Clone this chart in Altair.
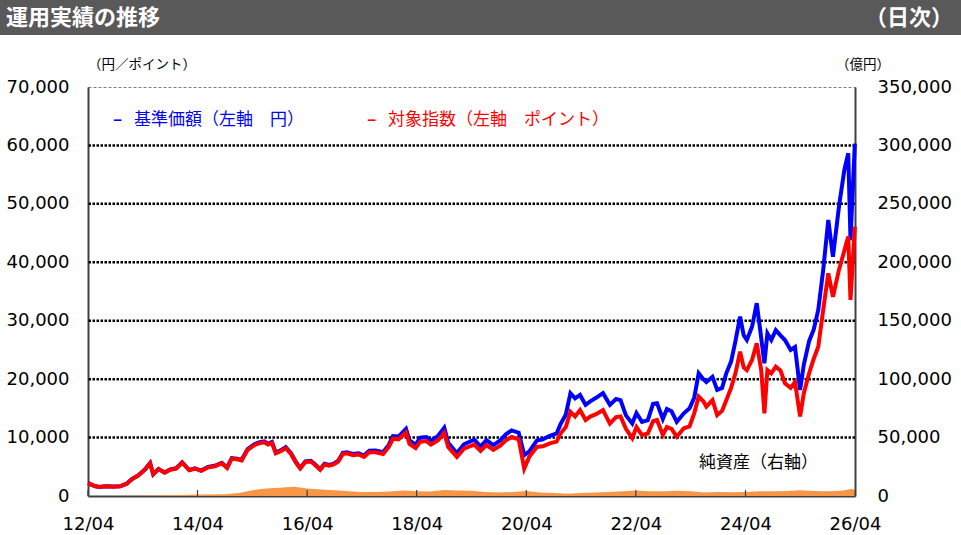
import altair as alt
import pandas as pd

# ---------------- data ----------------
dates = [
    "2012-04-02", "2012-05-15", "2012-06-15", "2012-08-01", "2012-09-15", "2012-11-01", "2012-12-15",
    "2013-01-20", "2013-03-01", "2013-04-15", "2013-05-20", "2013-06-10", "2013-07-15", "2013-08-25",
    "2013-10-01", "2013-11-10", "2013-12-20", "2014-02-05", "2014-03-15", "2014-04-25", "2014-06-10",
    "2014-07-25", "2014-09-10", "2014-10-15", "2014-11-15", "2014-12-20", "2015-01-20", "2015-03-01",
    "2015-04-15", "2015-05-15", "2015-06-20", "2015-07-15", "2015-08-10", "2015-09-05", "2015-10-10",
    "2015-11-10", "2015-12-15", "2016-01-20", "2016-02-15", "2016-03-20", "2016-04-25", "2016-05-20",
    "2016-06-27", "2016-07-25", "2016-08-25", "2016-09-25", "2016-10-25", "2016-11-25", "2016-12-20",
    "2017-02-01", "2017-03-10", "2017-04-15", "2017-05-20", "2017-07-01", "2017-08-20", "2017-09-25",
    "2017-10-25", "2017-12-01", "2018-01-20", "2018-02-12", "2018-03-25", "2018-04-25", "2018-06-05",
    "2018-07-05", "2018-08-20", "2018-10-02", "2018-10-28", "2018-12-25", "2019-02-10", "2019-04-20",
    "2019-06-01", "2019-07-10", "2019-08-25", "2019-10-10", "2019-11-15", "2019-12-25", "2020-02-10",
    "2020-03-18", "2020-04-20", "2020-06-10", "2020-07-20", "2020-09-05", "2020-10-20", "2020-11-15",
    "2020-12-20", "2021-01-20", "2021-02-20", "2021-03-25", "2021-05-01", "2021-06-01", "2021-07-10",
    "2021-08-25", "2021-10-10", "2021-11-20", "2021-12-20", "2022-01-25", "2022-03-08", "2022-04-05",
    "2022-05-12", "2022-06-20", "2022-07-25", "2022-08-20", "2022-09-28", "2022-10-25", "2022-11-25",
    "2022-12-30", "2023-02-15", "2023-03-25", "2023-04-25", "2023-05-25", "2023-06-25", "2023-07-15",
    "2023-08-25", "2023-09-25", "2023-10-28", "2023-11-25", "2023-12-27", "2024-01-25", "2024-02-25",
    "2024-03-20", "2024-04-10", "2024-05-15", "2024-06-15", "2024-07-15", "2024-08-05", "2024-08-25",
    "2024-09-20", "2024-10-20", "2024-11-20", "2024-12-20", "2025-01-27", "2025-02-25", "2025-03-31",
    "2025-04-25", "2025-05-30", "2025-06-30", "2025-07-30", "2025-09-01", "2025-10-05", "2025-11-05",
    "2025-12-15", "2026-01-20", "2026-02-15", "2026-03-02", "2026-03-31",
]

nav = [  # 基準価額（円）
    2200, 1700, 1560, 1660, 1610, 1660, 2110,
    2920, 3520, 4530, 5640, 3730, 4640, 4040,
    4550, 4750, 5760, 4450, 4750, 4350, 4960,
    5170, 5680, 4870, 6490, 6390, 6190, 8020,
    8840, 9150, 9360, 8950, 9260, 7430, 7840,
    8350, 7330, 5710, 4790, 5910, 6020, 5510,
    4600, 5520, 5320, 5530, 6050, 7390, 7500,
    7210, 7320, 6920, 7760, 7780, 7490, 8650,
    10250, 10170, 11500, 9500, 8780, 9970, 10100,
    9470, 10250, 11700, 9120, 7300, 8850, 9640,
    8450, 9570, 8700, 9500, 10520, 11230, 10830,
    7000, 7600, 9500, 9700, 10300, 10700, 12300,
    13900, 17600, 16700, 17300, 15600, 16200, 16800,
    17600, 15600, 16600, 16400, 13800, 12400, 14200,
    12700, 13000, 15800, 15900, 13200, 14900, 14500,
    12700, 14150, 15000, 16800, 21000, 20000, 19500,
    20400, 18150, 18500, 21000, 23000, 26500, 30700,
    27500, 26700, 29000, 33000, 27000, 22700, 27850,
    26700, 28400, 27500, 26700, 25000, 25500, 18150,
    22500, 26500, 28500, 31850, 38700, 47250, 40950,
    49500, 55800, 58650, 43800, 60300,
]

index_pts = [  # 対象指数（ポイント）
    2200, 1700, 1550, 1650, 1600, 1650, 2100,
    2900, 3500, 4500, 5600, 3700, 4600, 4000,
    4500, 4700, 5700, 4400, 4700, 4300, 4900,
    5100, 5600, 4800, 6400, 6300, 6100, 7900,
    8700, 9000, 9200, 8800, 9100, 7300, 7700,
    8200, 7200, 5600, 4700, 5800, 5900, 5400,
    4500, 5400, 5200, 5400, 5900, 7200, 7300,
    7000, 7100, 6700, 7500, 7500, 7200, 8300,
    9800, 9700, 10900, 8900, 8200, 9300, 9400,
    8800, 9500, 10800, 8400, 6700, 8100, 8800,
    7700, 8700, 7900, 8600, 9500, 10100, 9700,
    4700, 6700, 8400, 8500, 9000, 9300, 10700,
    11800, 14400, 13600, 14700, 13000, 13600, 14000,
    14700, 12400, 13500, 13600, 11500, 9900, 11800,
    10400, 10700, 12800, 13000, 10450, 11800, 11500,
    10150, 11600, 11900, 14150, 17000, 16200, 15300,
    16400, 13850, 14600, 16400, 18500, 21000, 24700,
    22000, 21550, 23300, 26150, 21500, 14150, 21550,
    21000, 22150, 21500, 19300, 18500, 19500, 13600,
    17600, 21000, 23500, 25550, 31850, 38100, 34100,
    38700, 42000, 44400, 33550, 46100,
]

na_dates = [
    "2012-04-02", "2012-10-01", "2013-04-01", "2013-10-01", "2014-04-01", "2014-10-01", "2015-01-05",
    "2015-04-01", "2015-07-01", "2015-10-01", "2016-01-05", "2016-04-01", "2016-07-01", "2016-10-03",
    "2017-01-04", "2017-04-03", "2017-07-03", "2017-10-02", "2018-01-04", "2018-04-02", "2018-07-02",
    "2018-10-01", "2019-01-04", "2019-04-01", "2019-07-01", "2019-10-01", "2020-01-06", "2020-04-01",
    "2020-07-01", "2020-10-01", "2021-01-04", "2021-04-01", "2021-07-01", "2021-10-01", "2022-01-04",
    "2022-04-01", "2022-07-01", "2022-10-03", "2023-01-04", "2023-04-03", "2023-07-03", "2023-10-02",
    "2024-01-04", "2024-04-01", "2024-07-01", "2024-10-01", "2025-01-06", "2025-04-01", "2025-07-01",
    "2025-10-01", "2026-01-05", "2026-03-02", "2026-03-31",
]

net_assets = [  # 純資産（億円）
    50, 100, 300, 700, 1200, 1500, 2500,
    5000, 6500, 7000, 8000, 6500, 5500, 5000,
    4000, 3500, 3500, 3800, 4800, 4000, 3800,
    5200, 4800, 4500, 3500, 3000, 3500, 4300,
    3000, 2500, 2000, 2500, 3000, 3500, 4000,
    4800, 4000, 4000, 4500, 4000, 3000, 3500,
    3200, 3500, 4000, 4000, 4200, 5000, 4200,
    4000, 4500, 6000, 5500,
]

left_ticks = [0, 10000, 20000, 30000, 40000, 50000, 60000, 70000]
right_ticks = [0, 50000, 100000, 150000, 200000, 250000, 300000, 350000]
grid_values = [10000, 20000, 30000, 40000, 50000, 60000]
x_tick_years = [2012, 2014, 2016, 2018, 2020, 2022, 2024, 2026]
x_tick_dates = ["2012-04-01", "2014-04-01", "2016-04-01", "2018-04-01",
                "2020-04-01", "2022-04-01", "2024-04-01", "2026-04-01"]

title_text = "運用実績の推移"
title_right = "（日次）"
legend_dash = "–"
legend_nav = "基準価額（左軸　円）"
legend_idx = "対象指数（左軸　ポイント）"
na_label = "純資産（右軸）"
left_unit = "（円／ポイント）"
right_unit = "（億円）"

# ---------------- chart ----------------
W, H = 767, 409
NUM_FONT = "DejaVu Sans"
JP_FONT = "Noto Sans CJK JP"

xscale = alt.Scale(
    domain=[alt.DateTime(year=2012, month=4, date=1),
            alt.DateTime(year=2026, month=4, date=1)],
)
yleft = alt.Scale(domain=[0, 70000], nice=False)
yright = alt.Scale(domain=[0, 350000], nice=False)

xaxis = alt.Axis(
    values=[alt.DateTime(year=y, month=4, date=1) for y in x_tick_years],
    format="%y/%m", title=None, grid=False,
    tickSize=0, labelPadding=19, labelFontSize=18, labelFont=NUM_FONT,
    labelColor="#000000", domainColor="#404040", domainWidth=2, labelFlush=False,
)
left_axis = alt.Axis(
    values=left_ticks, format=",d", title=None, grid=False, orient="left",
    tickSize=0, labelPadding=19, labelFontSize=18, labelFont=NUM_FONT,
    labelColor="#000000", domainColor="#404040", domainWidth=2,
)
right_axis = alt.Axis(
    values=right_ticks, format=",d", title=None, grid=False, orient="right",
    tickSize=0, labelPadding=22, labelFontSize=18, labelFont=NUM_FONT,
    labelColor="#000000", domainColor="#404040", domainWidth=2,
)

df = pd.DataFrame({"date": dates, "nav": nav, "idx": index_pts})
df_na = pd.DataFrame({"date": na_dates, "na": net_assets})
df_grid = pd.DataFrame({"v": grid_values})
df_xt = pd.DataFrame({"d": x_tick_dates})

# right-axis layer: net assets
area = alt.Chart(df_na).mark_area(color="#F79646", opacity=1).encode(
    x=alt.X("date:T", scale=xscale, axis=xaxis),
    y=alt.Y("na:Q", scale=yright, axis=right_axis),
)

# left-axis layer
blue = alt.Chart(df).mark_line(color="#0000FF", strokeWidth=4).encode(
    x=alt.X("date:T", scale=xscale, axis=xaxis),
    y=alt.Y("nav:Q", scale=yleft, axis=left_axis),
)
grid = alt.Chart(df_grid).mark_rule(color="#000000", strokeWidth=2.5, strokeDash=[2.5, 1.5]).encode(
    y=alt.Y("v:Q", scale=yleft, axis=left_axis),
)
red = alt.Chart(df).mark_line(color="#FF0000", strokeWidth=4).encode(
    x=alt.X("date:T", scale=xscale, axis=xaxis),
    y=alt.Y("idx:Q", scale=yleft, axis=left_axis),
)
xticks = alt.Chart(df_xt).mark_rule(color="#404040", strokeWidth=1.2).encode(
    x=alt.X("d:T", scale=xscale, axis=xaxis),
    y=alt.value(H - 6), y2=alt.value(H),
)

one = pd.DataFrame({"k": [0]})
header_bg = alt.Chart(one).mark_rect(color="#595959").encode(
    x=alt.value(-88), x2=alt.value(W + 106), y=alt.value(-87), y2=alt.value(-52),
)


def txt(s, x, y, size, color="#000000", align="left", weight="normal", font=JP_FONT):
    return alt.Chart(pd.DataFrame({"t": [s]})).mark_text(
        align=align, baseline="middle", fontSize=size, color=color,
        fontWeight=weight, font=font,
    ).encode(text="t:N", x=alt.value(x), y=alt.value(y))


texts = [
    txt(title_text, -82, -69, 22, "#FFFFFF", weight="bold"),
    txt(title_right, W + 98, -69, 22, "#FFFFFF", align="right", weight="bold"),
    txt(legend_dash, 25, 33, 17, "#0000FF", weight="bold"),
    txt(legend_nav, 46, 33, 17, "#0000FF"),
    txt(legend_dash, 279, 33, 17, "#FF0000", weight="bold"),
    txt(legend_idx, 300, 33, 17, "#FF0000"),
    txt(na_label, 611, 376, 17, "#000000"),
    txt(left_unit, 0, -22, 13.5, "#000000"),
    txt(right_unit, 748, -22, 13.5, "#000000"),
]

left_layer = alt.layer(header_bg, grid, blue, red, xticks, *texts)

chart = alt.layer(area, left_layer).resolve_scale(
    y="independent"
).properties(
    width=W, height=H, padding=0, background="#FFFFFF",
).configure_view(
    stroke="#808080", strokeDash=[3, 2], strokeWidth=1,
)

chart.save("out.html", embed_options={"renderer": "svg", "actions": False})
